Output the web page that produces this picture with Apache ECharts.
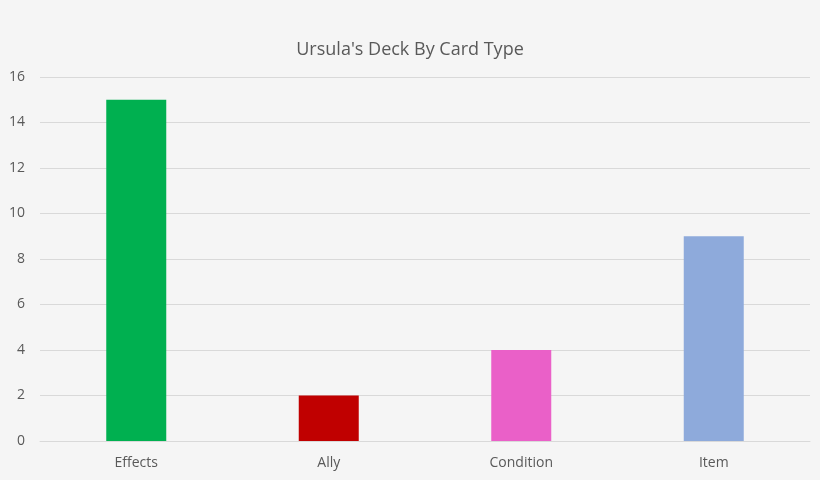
<!DOCTYPE html>
<html><head><meta charset="utf-8">
<script src="https://cdn.jsdelivr.net/npm/echarts@6/dist/echarts.min.js"></script>
<style>html,body{margin:0;padding:0;background:#f5f5f5;}#c{width:820px;height:480px;}</style>
</head><body><div id="c"></div>
<script>
const categories = ['Effects', 'Ally', 'Condition', 'Item'];
const values = [15, 2, 4, 9];
const barColors = ['#00b050', '#c00000', '#ea60c8', '#8eaadb'];
const yTicks = { min: 0, max: 16, interval: 2 };

const chart = echarts.init(document.getElementById('c'), null, { renderer: 'canvas' });
chart.setOption({
  backgroundColor: '#f5f5f5',
  animation: false,
  title: {
    text: "Ursula's Deck By Card Type",
    left: 'center', top: 36,
    textStyle: { fontFamily: 'Open Sans', fontSize: 18, fontWeight: 'normal', color: '#595959' }
  },
  grid: { left: 40, right: 10, top: 77, bottom: 39, containLabel: false },
  xAxis: {
    type: 'category', data: categories,
    axisLine: { lineStyle: { color: '#d9d9d9' } },
    axisTick: { show: false },
    axisLabel: { color: '#595959', fontFamily: 'Open Sans', fontSize: 14, margin: 15 }
  },
  yAxis: {
    type: 'value', min: yTicks.min, max: yTicks.max, interval: yTicks.interval,
    axisLine: { show: false }, axisTick: { show: false },
    splitLine: { lineStyle: { color: '#d9d9d9' } },
    axisLabel: { color: '#595959', fontFamily: 'Open Sans', fontSize: 14, margin: 15 }
  },
  series: [{
    type: 'bar', barWidth: 60,
    data: values.map((v, i) => ({ value: v, itemStyle: { color: barColors[i] } }))
  }]
});
</script></body></html>
